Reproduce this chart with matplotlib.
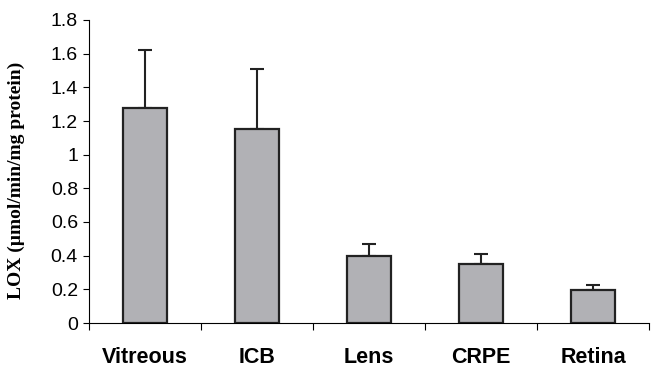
import numpy as np
import matplotlib
matplotlib.use("Agg")
import matplotlib.pyplot as plt

tissues = ["Vitreous", "ICB", "Lens", "CRPE", "Retina"]
lox = [1.28, 1.15, 0.40, 0.35, 0.195]
err = [0.34, 0.36, 0.07, 0.06, 0.03]
yticks = [0, 0.2, 0.4, 0.6, 0.8, 1, 1.2, 1.4, 1.6, 1.8]
ytick_labels = ["0", "0.2", "0.4", "0.6", "0.8", "1", "1.2", "1.4", "1.6", "1.8"]

fig = plt.figure(figsize=(6.51, 3.67), dpi=100)
ax = fig.add_axes([89/651, 44/367, 560/651, 303/367])

x = np.arange(len(tissues))
ax.bar(x, lox, width=0.39, color="#b1b1b5", edgecolor="#222222", linewidth=1.6, zorder=2)
ax.errorbar(x, lox, yerr=[np.zeros(len(err)), err], fmt="none", ecolor="#222222",
            elinewidth=1.5, capsize=5, capthick=1.5, zorder=1)

ax.set_xlim(-0.5, 4.5)
ax.set_ylim(0, 1.8)
ax.set_yticks(yticks)
ax.set_yticklabels(ytick_labels, fontsize=14, family="Liberation Sans")
ax.tick_params(axis="y", direction="out", length=4.5, width=0.8, pad=3.5)

ax.set_xticks(x)
ax.set_xticklabels(tissues, fontsize=15.5, fontweight="bold", family="Liberation Sans")
ax.set_xticks(np.arange(-0.5, 5, 1), minor=True)
ax.tick_params(axis="x", which="major", length=0, pad=17)
ax.tick_params(axis="x", which="minor", direction="out", length=5, width=0.8)

ax.spines["top"].set_visible(False)
ax.spines["right"].set_visible(False)
ax.spines["left"].set_linewidth(0.8)
ax.spines["bottom"].set_linewidth(0.8)

ax.set_ylabel("LOX (\u00b5mol/min/mg protein)", fontsize=14, fontweight="bold",
              family="Liberation Serif")
ax.yaxis.set_label_coords(-0.114, 0.47)

fig.savefig("out.png", dpi=100)
